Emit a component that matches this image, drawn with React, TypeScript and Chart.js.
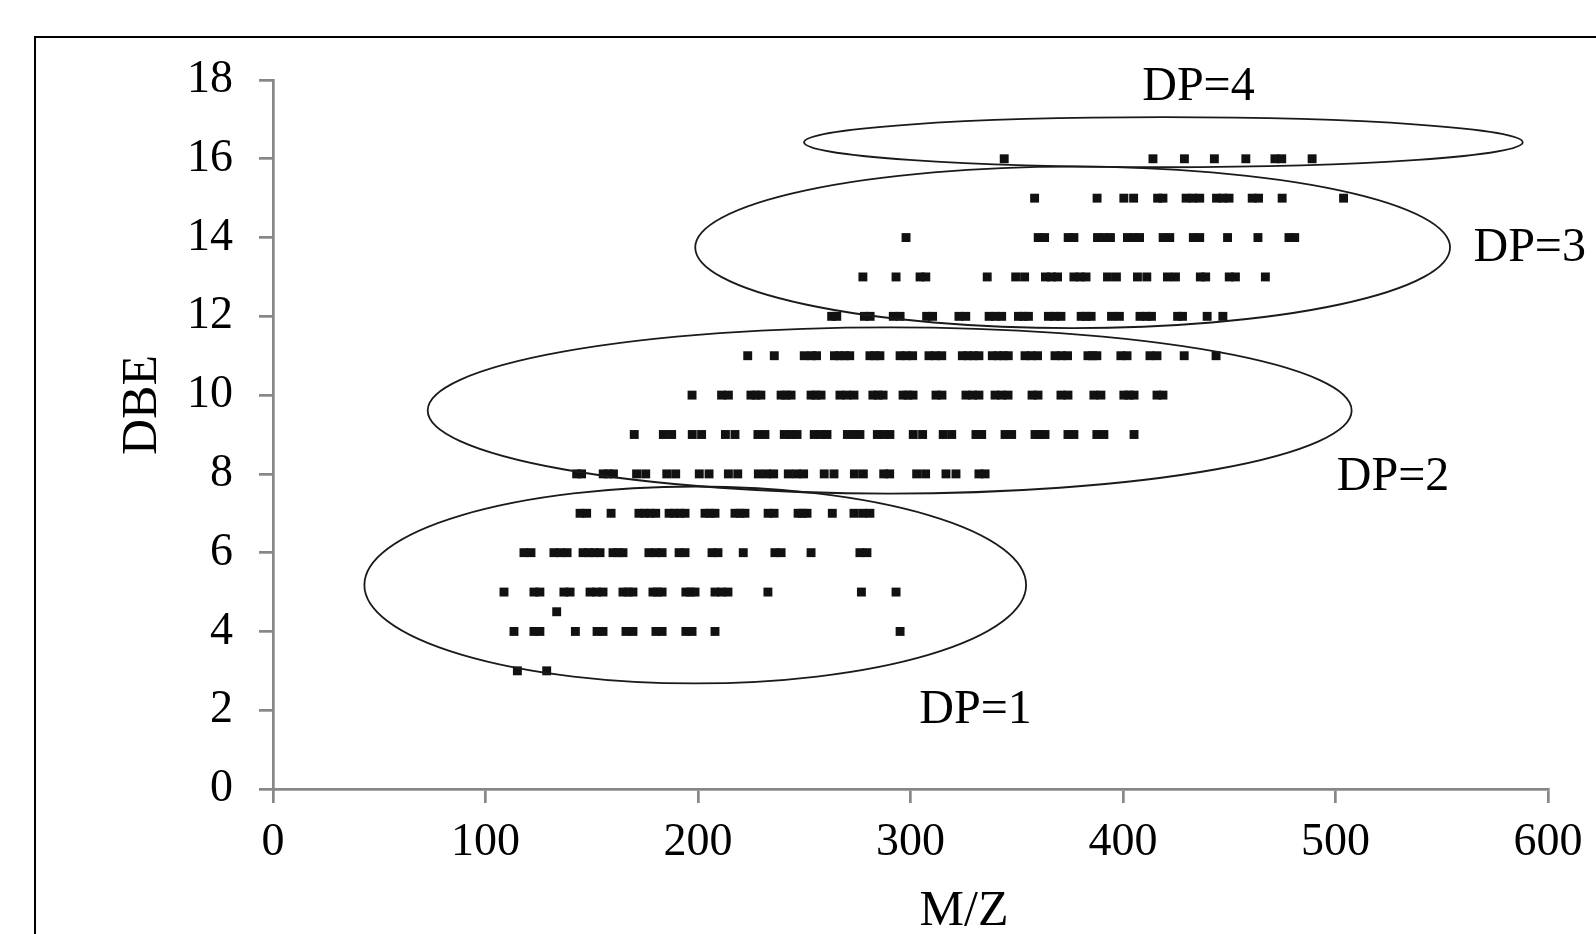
import React, { useEffect, useRef } from "react";
import { Chart, registerables } from "chart.js";

Chart.register(...registerables);

// ---- Data (m/z values observed at each DBE level) ----
const mzDbe3 = [115.0, 128.8];
const mzDbe4 = [113.4, 122.8, 125.6, 142.3, 152.5, 155.3, 166.1, 169.4, 180.2, 183.1, 194.3, 197.2, 208.0, 295.1];
const mzDbe4_5 = [133.5];
const mzDbe5 = [108.7, 122.8, 125.6, 136.9, 139.8, 149.2, 152.3, 155.3, 164.7, 167.1, 169.4, 178.8, 180.9, 183.1, 194.3, 196.4, 198.6, 208.0, 211.1, 214.1, 232.9, 276.9, 293.2];
const mzDbe6 = [118.1, 121.4, 132.2, 135.2, 138.4, 145.9, 148.5, 151.2, 153.9, 160.0, 162.4, 164.7, 176.9, 180.1, 183.1, 191.1, 193.9, 206.6, 209.4, 221.3, 236.2, 239.1, 253.2, 276.2, 279.5];
const mzDbe7 = [144.5, 147.6, 159.1, 172.2, 174.9, 177.4, 180.1, 186.4, 188.9, 191.4, 193.9, 203.3, 205.6, 208.0, 217.4, 219.8, 222.1, 233.0, 235.8, 247.1, 249.1, 251.3, 263.2, 273.4, 277.5, 280.9];
const mzDbe8 = [142.9, 145.2, 155.4, 157.8, 160.2, 171.1, 175.4, 185.3, 189.5, 200.6, 205.2, 214.3, 218.7, 228.4, 232.3, 235.6, 242.5, 246.4, 249.7, 259.4, 264.0, 273.6, 277.8, 287.4, 290.2, 302.9, 307.1, 316.7, 321.4, 332.2, 335.1];
const mzDbe9 = [170.0, 183.7, 187.6, 197.3, 201.7, 212.9, 217.4, 228.2, 231.5, 240.6, 243.6, 246.6, 254.7, 257.7, 260.7, 270.3, 273.3, 276.2, 284.4, 287.4, 290.3, 301.3, 305.7, 315.4, 319.4, 330.8, 333.5, 344.5, 347.6, 358.6, 360.9, 363.3, 374.1, 376.9, 387.7, 391.0, 405.2];
const mzDbe10 = [197.2, 211.1, 214.3, 224.9, 227.3, 229.6, 239.1, 241.4, 243.8, 253.2, 255.5, 257.9, 266.8, 270.1, 273.4, 282.3, 284.7, 287.1, 296.5, 298.8, 301.2, 312.0, 314.8, 326.1, 329.2, 332.2, 339.8, 342.9, 345.9, 357.2, 360.0, 370.8, 374.1, 386.3, 389.6, 400.4, 402.8, 405.2, 416.0, 418.8];
const mzDbe11 = [223.4, 235.9, 250.0, 253.5, 255.8, 264.2, 266.5, 269.0, 271.4, 280.9, 283.3, 285.6, 295.1, 298.0, 301.0, 308.7, 311.7, 314.7, 324.4, 327.0, 329.6, 332.2, 338.5, 341.2, 343.7, 346.0, 353.9, 356.8, 359.8, 368.0, 371.0, 373.9, 383.5, 385.6, 387.7, 399.0, 401.9, 412.7, 416.0, 428.8, 443.8];
const mzDbe12 = [262.9, 265.3, 278.3, 281.0, 291.9, 295.1, 307.6, 310.4, 322.8, 326.0, 337.0, 339.9, 342.9, 350.8, 353.1, 355.5, 364.9, 367.9, 370.8, 380.3, 382.6, 385.0, 394.6, 398.3, 408.0, 411.0, 413.4, 425.7, 428.0, 439.6, 447.0];
const mzDbe13 = [277.6, 293.2, 304.5, 307.2, 336.1, 349.5, 353.7, 363.5, 366.3, 369.2, 376.9, 379.8, 382.6, 392.7, 396.9, 406.8, 411.2, 420.9, 424.7, 436.4, 438.9, 450.0, 452.9, 467.0];
const mzDbe14 = [297.9, 360.1, 363.1, 374.2, 376.9, 388.0, 391.0, 394.1, 402.1, 405.0, 407.8, 418.9, 422.0, 433.1, 436.1, 449.2, 463.5, 478.1, 480.8];
const mzDbe15 = [358.4, 387.8, 400.4, 405.0, 416.3, 418.8, 429.7, 432.9, 436.1, 444.0, 447.0, 449.9, 460.8, 463.8, 474.9, 503.8];
const mzDbe16 = [344.1, 414.1, 428.9, 443.0, 457.8, 471.5, 474.7, 489.0];

const dbeLevels = [3, 4, 4.5, 5, 6, 7, 8, 9, 10, 11, 12, 13, 14, 15, 16];
const mzByLevel = [mzDbe3, mzDbe4, mzDbe4_5, mzDbe5, mzDbe6, mzDbe7, mzDbe8, mzDbe9, mzDbe10, mzDbe11, mzDbe12, mzDbe13, mzDbe14, mzDbe15, mzDbe16];

// ---- Groups (ellipses in data units) ----
const groupLabels = ["DP=1", "DP=2", "DP=3", "DP=4"];
const ellipseCenterX = [198.7, 290.2, 376.3, 419.0];
const ellipseCenterY = [5.18, 9.61, 13.75, 16.42];
const ellipseRadiusX = [155.7, 217.4, 177.6, 169.1];
const ellipseRadiusY = [2.5, 2.11, 2.05, 0.635];
const labelX = [330.6, 527.1, 591.4, 435.5];
const labelY = [1.68, 7.6, 13.41, 17.49];

// ---- Axes ----
const xMin = 0, xMax = 600, xStep = 100;
const yMin = 0, yMax = 18, yStep = 2;
const xTitle = "M/Z";
const yTitle = "DBE";

const SERIF = '"Liberation Serif", "Times New Roman", serif';
const AXIS_GRAY = "#878787";

const overlayPlugin = {
  id: "overlay",
  beforeDraw(chart: any) {
    const ctx = chart.ctx;
    ctx.save();
    ctx.fillStyle = "#ffffff";
    ctx.fillRect(0, 0, chart.width, chart.height);
    ctx.strokeStyle = "#000";
    ctx.lineWidth = 2;
    ctx.beginPath();
    ctx.moveTo(35, chart.height + 5);
    ctx.lineTo(35, 37);
    ctx.lineTo(chart.width + 5, 37);
    ctx.stroke();
    ctx.restore();
  },
  afterDatasetsDraw(chart: any) {
    const ctx = chart.ctx;
    const xs = chart.scales.x;
    const ys = chart.scales.y;
    ctx.save();
    // ellipses
    ctx.strokeStyle = "#1a1a1a";
    ctx.lineWidth = 1.8;
    for (let i = 0; i < groupLabels.length; i++) {
      const cx = xs.getPixelForValue(ellipseCenterX[i]);
      const cy = ys.getPixelForValue(ellipseCenterY[i]);
      const rx = xs.getPixelForValue(ellipseCenterX[i] + ellipseRadiusX[i]) - cx;
      const ry = cy - ys.getPixelForValue(ellipseCenterY[i] + ellipseRadiusY[i]);
      ctx.beginPath();
      ctx.ellipse(cx, cy, Math.abs(rx), Math.abs(ry), 0, 0, Math.PI * 2);
      ctx.stroke();
    }
    // group labels
    ctx.fillStyle = "#000";
    ctx.font = `48px ${SERIF}`;
    ctx.textAlign = "center";
    ctx.textBaseline = "alphabetic";
    for (let i = 0; i < groupLabels.length; i++) {
      ctx.fillText(groupLabels[i], xs.getPixelForValue(labelX[i]), ys.getPixelForValue(labelY[i]));
    }
    // axis titles
    ctx.font = `50px ${SERIF}`;
    ctx.fillText(xTitle, 964, 925);
    ctx.translate(156, 405);
    ctx.rotate(-Math.PI / 2);
    ctx.fillText(yTitle, 0, 0);
    ctx.restore();
  },
};

export default function App() {
  const ref = useRef<HTMLCanvasElement>(null);
  useEffect(() => {
    const canvas = ref.current;
    if (!canvas) return;
    const points: { x: number; y: number }[] = [];
    dbeLevels.forEach((dbe, i) => {
      mzByLevel[i].forEach((mz) => points.push({ x: mz, y: dbe }));
    });
    const tickFont = { family: SERIF, size: 46 };
    const chart = new Chart(canvas, {
      type: "scatter",
      data: {
        datasets: [
          {
            label: "DBE vs M/Z",
            data: points,
            pointStyle: "rect",
            pointRadius: 6.3,
            pointHoverRadius: 6.3,
            pointBackgroundColor: "#111",
            pointBorderWidth: 0,
            showLine: false,
          },
        ],
      },
      options: {
        animation: false,
        responsive: false,
        devicePixelRatio: 1,
        layout: { padding: { top: 80, right: 48, bottom: 0, left: 0 } },
        plugins: { legend: { display: false }, tooltip: { enabled: false } },
        scales: {
          x: {
            type: "linear",
            min: xMin,
            max: xMax,
            ticks: { stepSize: xStep, font: tickFont, color: "#000", padding: 12, maxRotation: 0 },
            grid: { drawOnChartArea: false, drawTicks: true, tickLength: 14, color: AXIS_GRAY, lineWidth: 2.7 },
            border: { display: true, color: AXIS_GRAY, width: 2.7 },
            title: { display: false, text: xTitle },
            afterFit: (s: any) => {
              s.height = 145;
            },
          },
          y: {
            type: "linear",
            min: yMin,
            max: yMax,
            ticks: { stepSize: yStep, font: tickFont, color: "#000", padding: 26 },
            grid: { drawOnChartArea: false, drawTicks: true, tickLength: 14, color: AXIS_GRAY, lineWidth: 2.7 },
            border: { display: true, color: AXIS_GRAY, width: 2.7 },
            title: { display: false, text: yTitle },
            afterFit: (s: any) => {
              s.width = 273;
            },
          },
        },
      },
      plugins: [overlayPlugin],
    });
    return () => chart.destroy();
  }, []);
  return (
    <div style={{ position: "fixed", left: 0, top: 0, width: 1596, height: 934, background: "#fff" }}>
      <canvas ref={ref} width={1596} height={934} style={{ display: "block", width: 1596, height: 934 }} />
    </div>
  );
}
